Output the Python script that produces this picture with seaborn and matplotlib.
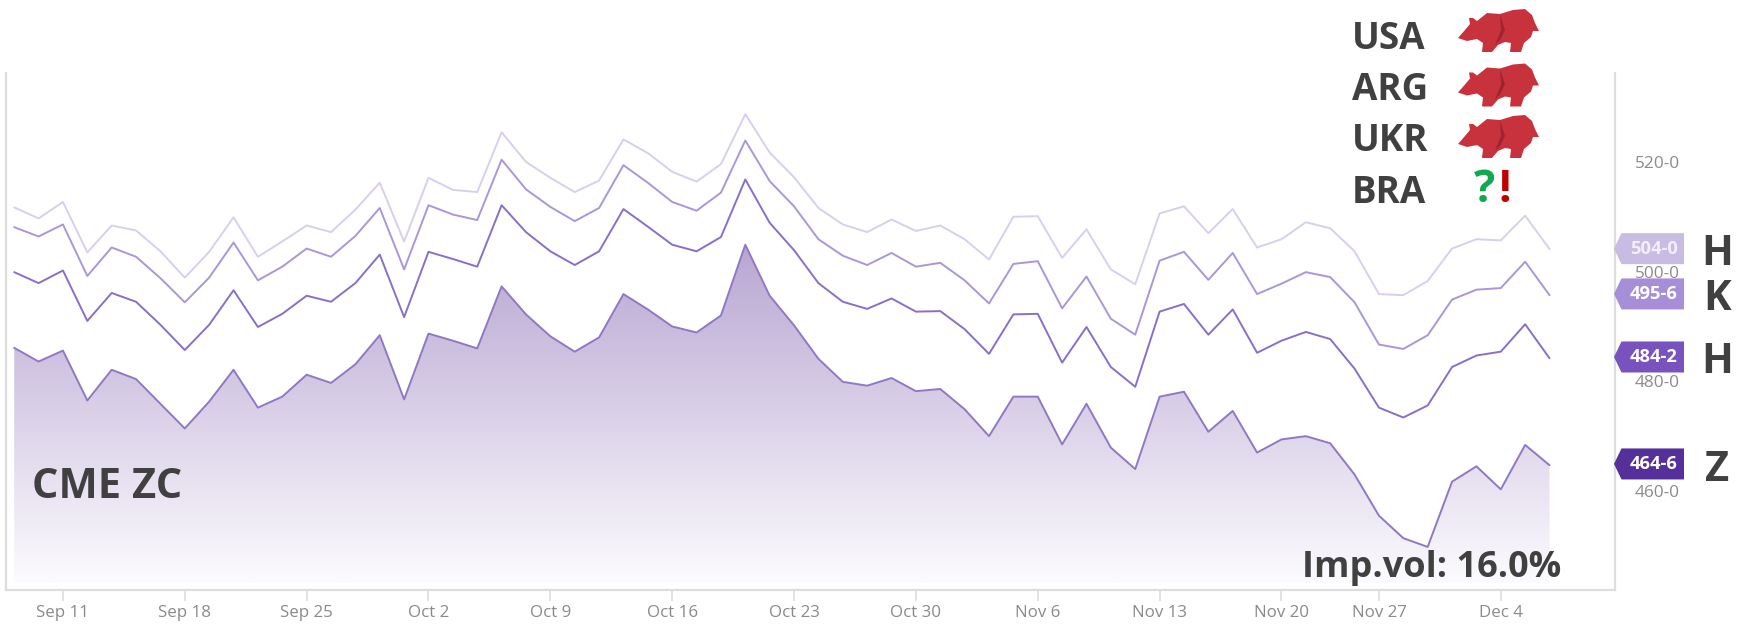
import numpy as np
import pandas as pd
import seaborn as sns
import matplotlib
matplotlib.use("Agg")
import matplotlib.pyplot as plt
from matplotlib.patches import Polygon, PathPatch
from matplotlib.transforms import IdentityTransform

# ---------- data ----------
z_contract = [486.1,483.6,485.6,476.5,482.1,480.4,475.9,471.4,476.3,482.1,475.2,477.2,481.2,479.7,483.1,488.4,
              476.7,488.7,487.4,486.0,497.3,492.2,488.2,485.4,488.0,495.9,493.1,490.0,488.9,492.0,504.9,495.6,
              490.2,484.1,479.9,479.2,480.6,478.2,478.6,474.9,470.0,477.2,477.2,468.5,475.9,467.9,464.0,477.2,
              478.1,470.8,474.6,467.0,469.4,470.0,468.7,463.0,455.5,451.4,449.8,461.7,464.5,460.3,468.4,464.7]
h_contract = [499.9,497.9,500.2,491.0,496.1,494.5,490.3,485.7,490.3,496.6,489.9,492.3,495.6,494.5,497.9,503.1,
              491.7,503.6,502.3,500.9,512.1,507.2,503.7,501.2,503.7,511.4,508.2,504.9,503.7,506.3,516.8,508.9,
              503.9,497.9,494.5,493.2,495.1,492.7,492.8,489.5,485.0,492.2,492.3,483.4,489.9,482.6,479.0,492.7,
              494.1,488.5,493.1,485.2,487.4,489.0,487.7,482.3,475.2,473.4,475.6,482.6,484.7,485.4,490.4,484.2]
k_contract = [508.1,506.4,508.6,499.2,504.4,502.7,498.8,494.4,498.9,505.3,498.4,500.9,504.2,502.7,506.5,511.6,
              500.4,512.1,510.4,509.4,520.4,515.0,511.8,509.2,511.6,519.4,516.2,512.7,511.1,514.4,523.9,516.5,
              511.9,505.9,502.9,501.2,503.4,500.9,501.6,498.4,494.2,501.4,501.9,493.3,499.1,491.4,488.5,502.0,
              503.6,498.5,503.4,495.9,497.8,499.9,499.0,494.4,486.7,485.9,488.4,494.9,496.7,497.0,501.8,495.7]
h2_contract = [511.7,509.7,512.7,503.5,508.4,507.5,503.7,498.9,503.6,509.9,502.7,505.5,508.4,507.2,511.3,516.2,
               505.5,517.1,514.9,514.5,525.4,520.0,517.1,514.5,516.6,524.1,521.6,518.2,516.4,519.6,528.7,521.7,
               517.2,511.6,508.6,507.2,509.5,507.4,508.4,505.9,502.2,510.0,510.1,502.5,507.7,500.4,497.7,510.6,
               511.9,507.0,511.4,504.4,505.9,509.0,507.9,503.7,495.9,495.7,498.3,504.2,505.9,505.7,510.2,504.1]
session = list(range(len(z_contract)))
tick_sessions = [2, 7, 12, 17, 22, 27, 32, 37, 42, 47, 52, 56, 61]
tick_labels = ["Sep 11","Sep 18","Sep 25","Oct 2","Oct 9","Oct 16","Oct 23","Oct 30","Nov 6","Nov 13","Nov 20","Nov 27","Dec 4"]
price_ticks = [460, 480, 500, 520]
price_labels = ["460-0", "480-0", "500-0", "520-0"]
last_values = [504.0, 495.75, 484.25, 464.75]
last_labels = ["504-0", "495-6", "484-2", "464-6"]
contract_letters = ["H", "K", "H", "Z"]
origins = ["USA", "ARG", "UKR", "BRA"]

# ---------- figure ----------
W, H = 1747, 625
sns.set_theme(style="white")
plt.rcParams["font.family"] = ["Open Sans", "DejaVu Sans"]
fig = plt.figure(figsize=(W / 100, H / 100), dpi=100, facecolor="white")
L, R, T, B = 5.5, 1614.6, 72.5, 589.5
ax = fig.add_axes([L / W, 1 - B / H, (R - L) / W, (B - T) / H])
ax.set_xlim(-0.357, 65.67)
ax.set_ylim(442.04, 536.3)

df = pd.DataFrame({"session": session, "Z": z_contract, "H": h_contract, "K": k_contract, "H2": h2_contract})
line_colors = {"Z": "#9078c2", "H": "#8a6fc8", "K": "#ab96d8", "H2": "#d9cfec"}
for name, col in line_colors.items():
    sns.lineplot(data=df, x="session", y=name, ax=ax, color=col, lw=1.4, legend=False, zorder=4)
ax.set_xlabel("")
ax.set_ylabel("")

# gradient under the front-month series
top_val = max(z_contract)
c_top = np.array(matplotlib.colors.to_rgb("#b8a6d2"))
c_bot = np.array(matplotlib.colors.to_rgb("#fcfbfe"))
t = np.linspace(0, 1, 256)[:, None, None]
grad = c_top[None, None, :] * (1 - t) + c_bot[None, None, :] * t
bottom_val = 443.2
im = ax.imshow(grad, extent=[session[0], session[-1], bottom_val, top_val], origin="upper",
               aspect="auto", zorder=2, interpolation="bilinear")
poly = ax.fill_between(session, z_contract, bottom_val, color="none", lw=0)
clip = PathPatch(poly.get_paths()[0], transform=ax.transData, fc="none", ec="none")
ax.add_patch(clip)
im.set_clip_path(clip)
ax.set_xlim(-0.357, 65.67)
ax.set_ylim(442.04, 536.3)

# axes
ax.spines["top"].set_visible(False)
for s in ["left", "right", "bottom"]:
    ax.spines[s].set_color("#dddddd")
    ax.spines[s].set_linewidth(1.6)
ax.set_xticks(tick_sessions, tick_labels)
ax.tick_params(axis="x", length=8, width=1.2, color="#dddddd", labelcolor="#8a8a8a", labelsize=12.2, pad=3.5, bottom=True)
ax.yaxis.tick_right()
ax.set_yticks(price_ticks, price_labels)
ax.tick_params(axis="y", length=0, labelcolor="#8c8c8c", labelsize=12.4, pad=14.5, right=False, left=False)

def px(x, y, txt, **kw):
    return fig.text(x / W, 1 - y / H, txt, **kw)

# last-price tags
tag_colors = ["#c9bce3", "#a78ed8", "#7852bf", "#55309b"]
tag_text = ["#f2eefa", "#ffffff", "#ffffff", "#ffffff"]
letter_dy = [6, 6, 6, 7]
for val, lab, colr, tc, let, dy in zip(last_values, last_labels, tag_colors, tag_text, contract_letters, letter_dy):
    yc = H - ax.transData.transform((0, val))[1] - 1
    x0, x1, x2, h = 1614.0, 1621.5, 1684.0, 15.5
    pts = [(x0, yc), (x1, yc - h), (x2, yc - h), (x2, yc + h), (x1, yc + h)]
    fig.add_artist(Polygon([(a, H - b) for a, b in pts], closed=True, transform=IdentityTransform(),
                           fc=colr, ec="none", zorder=6))
    px(1654, yc, lab, color=tc, fontsize=13.2, fontweight="bold", ha="center", va="center", zorder=7)
    px(1717, yc + dy, let, color="#404040", fontsize=30, fontweight="bold", ha="center", va="center", zorder=7)

# big annotations
px(32, 487, "CME ZC", color="#404040", fontsize=30, fontweight="bold", ha="left", va="center", zorder=7)
px(1302, 568, "Imp.vol: 16.0%", color="#404040", fontsize=26, fontweight="bold", ha="left", va="center", zorder=7)
for name, y in zip(origins, [39, 90, 141, 193]):
    px(1352, y, name, color="#404040", fontsize=26.5, fontweight="bold", ha="left", va="center", zorder=7)

# bear icon: silhouette in pixel units relative to its box
bear = [(8,38),(15,30),(20,24),(19,18),(23,18),(27,21),(37,13),(50,14),(63,10),(75,9),(82,15),(85,23),(89,31),(83,31),
        (81,37),(74,43),(71,52),(60,52),(61,43),(55,42),(48,45),(42,52),(32,52),(33,43),(27,39),(17,41)]
fold = [(50,14),(55,30),(50,40),(45,45),(51,30)]
for dy in [0, 54.5, 106]:
    for shape, colr in [(bear, "#c8323c"), (fold, "#9e2530")]:
        fig.add_artist(Polygon([(1450 + a, H - (dy + b)) for a, b in shape], closed=True,
                               transform=IdentityTransform(), fc=colr, ec="none", zorder=7))
px(1484.5, 191, "?", color="#12a850", fontsize=32, fontweight="bold", ha="center", va="center", zorder=7)
px(1505, 191, "!", color="#c00000", fontsize=32, fontweight="bold", ha="center", va="center", zorder=7)

fig.savefig("out.png", dpi=100, facecolor="white")
